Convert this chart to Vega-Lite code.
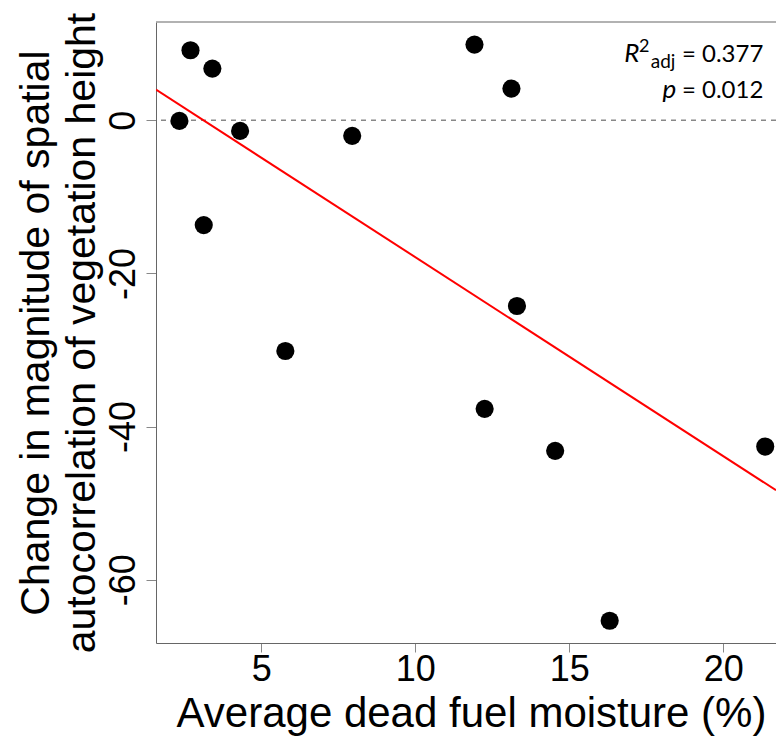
{
  "$schema": "https://vega.github.io/schema/vega-lite/v6.json",
  "autosize": {"type": "none"},
  "padding": {"left": 156, "top": 22, "right": 0, "bottom": 103},
  "width": 620,
  "height": 621,
  "config": {
    "view": {"stroke": null},
    "font": "Liberation Sans",
    "axis": {"grid": false, "domainColor": "#666", "tickColor": "#888", "labelColor": "#000", "titleColor": "#000", "labelFont": "Liberation Sans", "titleFont": "Liberation Sans", "titleFontWeight": "normal"}
  },
  "datasets": {
    "pts": [
      {"moisture": 2.34, "change": -0.09},
      {"moisture": 2.70, "change": 9.13},
      {"moisture": 3.41, "change": 6.74},
      {"moisture": 4.31, "change": -1.40},
      {"moisture": 3.13, "change": -13.70},
      {"moisture": 5.78, "change": -30.13},
      {"moisture": 7.95, "change": -2.04},
      {"moisture": 11.92, "change": 9.87},
      {"moisture": 13.12, "change": 4.13},
      {"moisture": 13.30, "change": -24.26},
      {"moisture": 12.25, "change": -37.69},
      {"moisture": 14.54, "change": -43.17},
      {"moisture": 16.31, "change": -65.35},
      {"moisture": 21.36, "change": -42.61}
    ],
    "fit": [
      {"moisture": 1.58, "change": 3.99},
      {"moisture": 21.71, "change": -48.31}
    ],
    "one": [{}]
  },
  "layer": [
    {
      "data": {"name": "one"},
      "mark": {"type": "rule", "color": "#999", "strokeWidth": 1.5},
      "encoding": {"y": {"datum": 12.82}}
    },
    {
      "data": {"name": "one"},
      "mark": {"type": "rule", "color": "#888", "strokeWidth": 1.5, "strokeDash": [5, 5]},
      "encoding": {"y": {"datum": 0}}
    },
    {
      "data": {"name": "fit"},
      "mark": {"type": "line", "color": "#ff0000", "strokeWidth": 2, "clip": true},
      "encoding": {
        "x": {"field": "moisture", "type": "quantitative"},
        "y": {"field": "change", "type": "quantitative"}
      }
    },
    {
      "data": {"name": "pts"},
      "mark": {"type": "circle", "color": "#000", "opacity": 1, "size": 330},
      "encoding": {
        "x": {
          "field": "moisture", "type": "quantitative",
          "scale": {"domain": [1.58, 21.71], "nice": false, "zero": false},
          "axis": {"values": [5, 10, 15, 20], "labelFontSize": 36, "tickSize": 9, "labelPadding": 0, "title": "Average dead fuel moisture (%)", "titleFontSize": 42, "titlePadding": 6, "titleX": 315}
        },
        "y": {
          "field": "change", "type": "quantitative",
          "scale": {"domain": [-68.26, 12.82], "nice": false, "zero": false},
          "axis": {"values": [0, -20, -40, -60], "labelExpr": "toString(datum.value)", "labelFontSize": 36, "labelAngle": -90, "tickSize": 10, "labelPadding": 4, "title": ["Change in magnitude of spatial", "autocorrelation of vegetation height"], "titleFontSize": 41, "titlePadding": 2, "titleLineHeight": 46}
        }
      }
    },
    {
      "data": {"name": "one"},
      "mark": {"type": "text", "text": " = 0.377", "align": "right", "baseline": "alphabetic", "font": "Lato", "fontSize": 24},
      "encoding": {"x": {"datum": 21.30}, "y": {"datum": 7.60}}
    },
    {
      "data": {"name": "one"},
      "mark": {"type": "text", "text": "adj", "align": "right", "baseline": "alphabetic", "font": "Lato", "fontSize": 19, "dx": -88, "dy": 6},
      "encoding": {"x": {"datum": 21.30}, "y": {"datum": 7.60}}
    },
    {
      "data": {"name": "one"},
      "mark": {"type": "text", "text": "2", "align": "right", "baseline": "alphabetic", "font": "Lato", "fontSize": 18, "dx": -114, "dy": -10},
      "encoding": {"x": {"datum": 21.30}, "y": {"datum": 7.60}}
    },
    {
      "data": {"name": "one"},
      "mark": {"type": "text", "text": "R", "align": "right", "baseline": "alphabetic", "font": "Lato", "fontStyle": "italic", "fontSize": 26, "dx": -124},
      "encoding": {"x": {"datum": 21.30}, "y": {"datum": 7.60}}
    },
    {
      "data": {"name": "one"},
      "mark": {"type": "text", "text": " = 0.012", "align": "right", "baseline": "alphabetic", "font": "Lato", "fontSize": 24},
      "encoding": {"x": {"datum": 21.30}, "y": {"datum": 2.87}}
    },
    {
      "data": {"name": "one"},
      "mark": {"type": "text", "text": "p", "align": "right", "baseline": "alphabetic", "font": "Lato", "fontStyle": "italic", "fontSize": 26, "dx": -87},
      "encoding": {"x": {"datum": 21.30}, "y": {"datum": 2.87}}
    }
  ]
}
